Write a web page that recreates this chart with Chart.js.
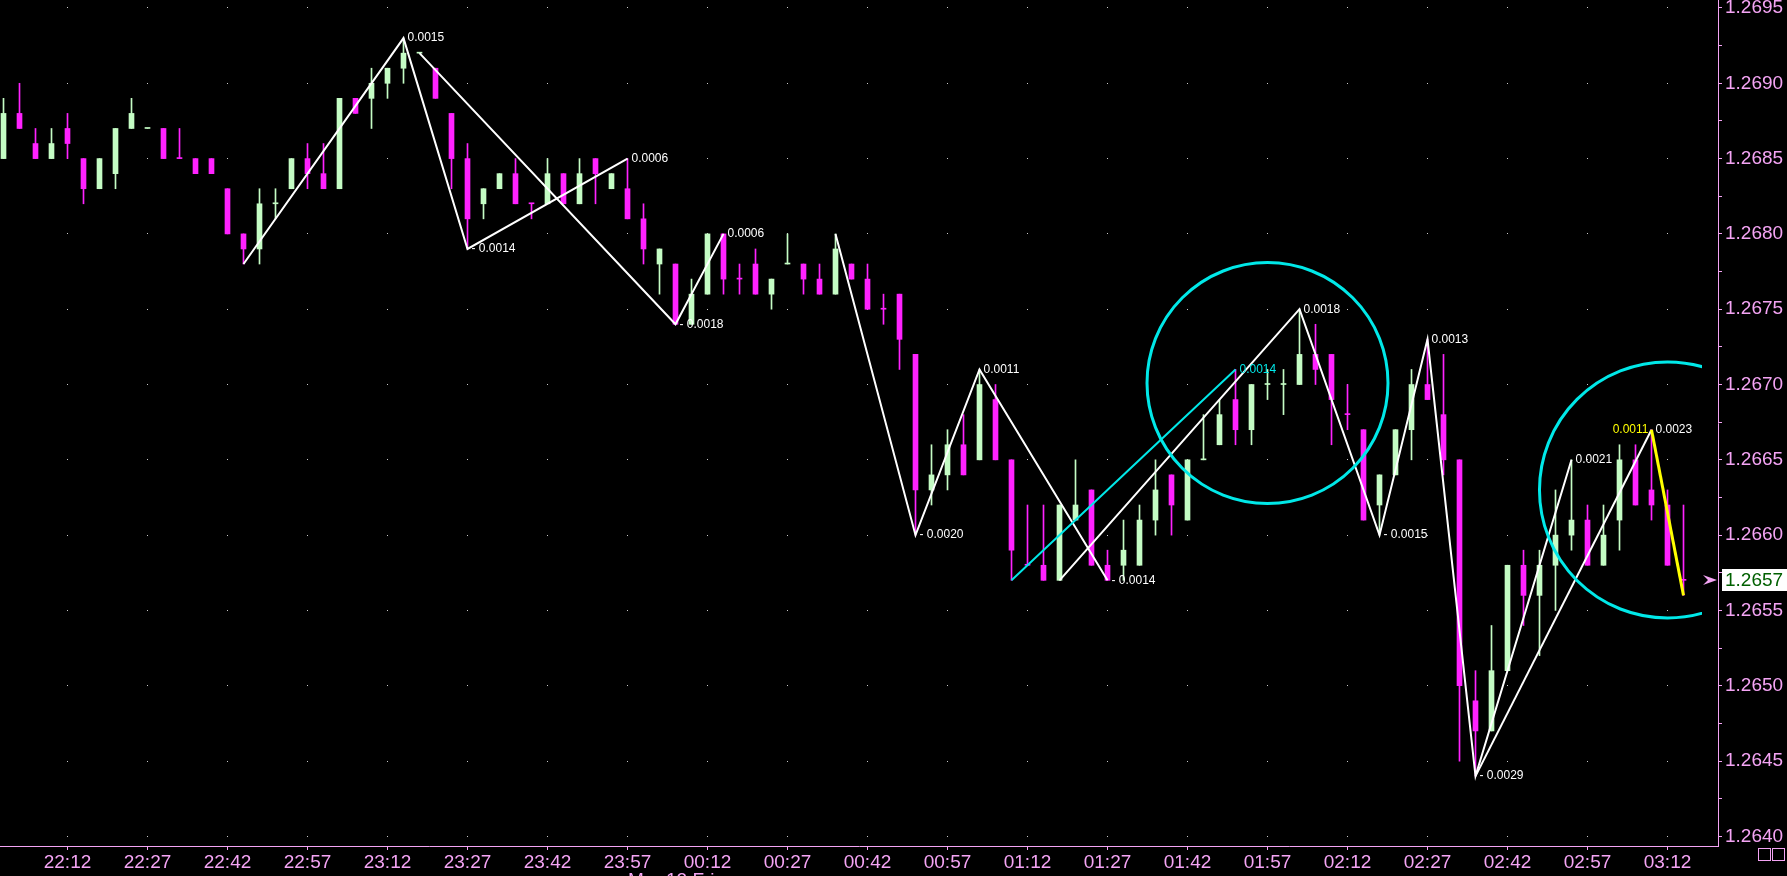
<!DOCTYPE html>
<html>
<head>
<meta charset="utf-8">
<script src="https://cdn.jsdelivr.net/npm/chart.js@4.4.1/dist/chart.umd.min.js"></script>
<style>
html, body { margin: 0; padding: 0; background: #000; }
#wrap { width: 1787px; height: 876px; }
</style>
</head>
<body>
<div id="wrap"><canvas id="chart"></canvas></div>
<script>
// 3-minute bars, 22:00 .. 03:15
const times = [];
for (let i = 0; i < 106; i++) {
    const m = (22 * 60 + 3 * i) % 1440;
    times.push(String(Math.floor(m / 60)).padStart(2, '0') + ':' + String(m % 60).padStart(2, '0'));
}

const opens = [
    1.2685, 1.2688, 1.2686, 1.2685, 1.2687, 1.2685, 1.2683, 1.2684, 1.2687, 1.2687,
    1.2687, 1.2685, 1.2685, 1.2685, 1.2683, 1.2680, 1.2679, 1.2682, 1.2683, 1.2685,
    1.2684, 1.2683, 1.2689, 1.2689, 1.2690, 1.2691, 1.2692, 1.2691, 1.2688, 1.2685,
    1.2682, 1.2683, 1.2684, 1.2682, 1.2682, 1.2684, 1.2682, 1.2685, 1.2683, 1.2683,
    1.2681, 1.2678, 1.2678, 1.2674, 1.2676, 1.2680, 1.2677, 1.2678, 1.2676, 1.2678,
    1.2678, 1.2677, 1.2676, 1.2678, 1.2677, 1.2675, 1.2676, 1.2672, 1.2663, 1.2664,
    1.2666, 1.2665, 1.2669, 1.2665, 1.2658, 1.2658, 1.2657, 1.2661, 1.2663, 1.2658,
    1.2658, 1.2658, 1.2661, 1.2664, 1.2661, 1.2665, 1.2666, 1.2669, 1.2667, 1.2670,
    1.2670, 1.2670, 1.2672, 1.2672, 1.2668, 1.2667, 1.2662, 1.2664, 1.2667, 1.2670,
    1.2668, 1.2665, 1.2649, 1.2647, 1.2651, 1.2658, 1.2656, 1.2658, 1.2660, 1.2661,
    1.2658, 1.2661, 1.2665, 1.2663, 1.2662, 1.2657
];
const highs = [
    1.2689, 1.2690, 1.2687, 1.2687, 1.2688, 1.2685, 1.2685, 1.2687, 1.2689, 1.2687,
    1.2687, 1.2687, 1.2685, 1.2685, 1.2683, 1.2680, 1.2683, 1.2683, 1.2685, 1.2686,
    1.2686, 1.2689, 1.2689, 1.2691, 1.2691, 1.2693, 1.2692, 1.2691, 1.2688, 1.2686,
    1.2683, 1.2684, 1.2685, 1.2682, 1.2685, 1.2684, 1.2685, 1.2685, 1.2684, 1.2685,
    1.2682, 1.2679, 1.2678, 1.2677, 1.2680, 1.2680, 1.2678, 1.2679, 1.2677, 1.2680,
    1.2678, 1.2678, 1.2680, 1.2678, 1.2678, 1.2676, 1.2676, 1.2672, 1.2666, 1.2667,
    1.2668, 1.2671, 1.2670, 1.2665, 1.2662, 1.2662, 1.2662, 1.2665, 1.2663, 1.2659,
    1.2661, 1.2662, 1.2665, 1.2664, 1.2665, 1.2668, 1.2669, 1.2671, 1.2670, 1.2671,
    1.2671, 1.2675, 1.2674, 1.2672, 1.2670, 1.2667, 1.2664, 1.2667, 1.2671, 1.2673,
    1.2672, 1.2665, 1.2651, 1.2654, 1.2658, 1.2659, 1.2659, 1.2663, 1.2665, 1.2662,
    1.2662, 1.2666, 1.2666, 1.2667, 1.2663, 1.2662
];
const lows = [
    1.2685, 1.2687, 1.2685, 1.2685, 1.2685, 1.2682, 1.2683, 1.2683, 1.2687, 1.2687,
    1.2685, 1.2685, 1.2684, 1.2684, 1.2680, 1.2678, 1.2678, 1.2681, 1.2683, 1.2683,
    1.2683, 1.2683, 1.2688, 1.2687, 1.2689, 1.2690, 1.2692, 1.2689, 1.2683, 1.2679,
    1.2681, 1.2683, 1.2682, 1.2681, 1.2682, 1.2682, 1.2682, 1.2682, 1.2683, 1.2681,
    1.2678, 1.2676, 1.2674, 1.2674, 1.2676, 1.2676, 1.2676, 1.2676, 1.2675, 1.2678,
    1.2676, 1.2676, 1.2676, 1.2677, 1.2675, 1.2674, 1.2671, 1.2660, 1.2662, 1.2663,
    1.2664, 1.2665, 1.2665, 1.2657, 1.2658, 1.2657, 1.2657, 1.2661, 1.2658, 1.2657,
    1.2657, 1.2658, 1.2660, 1.2660, 1.2661, 1.2665, 1.2666, 1.2666, 1.2666, 1.2669,
    1.2668, 1.2670, 1.2670, 1.2666, 1.2667, 1.2661, 1.2660, 1.2664, 1.2665, 1.2669,
    1.2664, 1.2645, 1.2644, 1.2647, 1.2651, 1.2654, 1.2652, 1.2655, 1.2659, 1.2658,
    1.2658, 1.2659, 1.2662, 1.2661, 1.2658, 1.2656
];
const closes = [
    1.2688, 1.2687, 1.2685, 1.2686, 1.2686, 1.2683, 1.2685, 1.2687, 1.2688, 1.2687,
    1.2685, 1.2685, 1.2684, 1.2684, 1.2680, 1.2679, 1.2682, 1.2682, 1.2685, 1.2684,
    1.2683, 1.2689, 1.2688, 1.2690, 1.2691, 1.2692, 1.2692, 1.2689, 1.2685, 1.2681,
    1.2683, 1.2684, 1.2682, 1.2682, 1.2684, 1.2682, 1.2684, 1.2684, 1.2684, 1.2681,
    1.2679, 1.2679, 1.2674, 1.2676, 1.2680, 1.2677, 1.2677, 1.2676, 1.2677, 1.2678,
    1.2677, 1.2676, 1.2679, 1.2677, 1.2675, 1.2675, 1.2673, 1.2663, 1.2664, 1.2666,
    1.2664, 1.2670, 1.2665, 1.2659, 1.2658, 1.2657, 1.2662, 1.2662, 1.2658, 1.2657,
    1.2659, 1.2661, 1.2663, 1.2662, 1.2665, 1.2665, 1.2668, 1.2667, 1.2670, 1.2670,
    1.2670, 1.2672, 1.2671, 1.2669, 1.2668, 1.2661, 1.2664, 1.2667, 1.2670, 1.2669,
    1.2665, 1.2650, 1.2647, 1.2651, 1.2658, 1.2656, 1.2658, 1.2660, 1.2661, 1.2658,
    1.2660, 1.2665, 1.2662, 1.2662, 1.2658, 1.2657
];
// doji bars drawn in the "up" colour
const greenDoji = ['22:27', '22:51', '23:18', '00:27', '01:45', '01:57', '02:00'];

const xTickLabels = ['22:12', '22:27', '22:42', '22:57', '23:12', '23:27', '23:42', '23:57',
    '00:12', '00:27', '00:42', '00:57', '01:12', '01:27', '01:42', '01:57', '02:12',
    '02:27', '02:42', '02:57', '03:12'];
const yTickLabels = ['1.2640', '1.2645', '1.2650', '1.2655', '1.2660', '1.2665',
    '1.2670', '1.2675', '1.2680', '1.2685', '1.2690', '1.2695'];

// swing lines [time, price]
const swingA = [['22:45', 1.2678], ['23:15', 1.2693], ['23:27', 1.2679], ['23:57', 1.2685]];
const swingB = [['23:18', 1.2692], ['00:06', 1.2674], ['00:15', 1.2680]];
const swingC = [['00:36', 1.2680], ['00:51', 1.2660], ['01:03', 1.2671], ['01:27', 1.2657]];
const swingD = [['01:18', 1.2657], ['02:03', 1.2675], ['02:18', 1.2660], ['02:27', 1.2673],
    ['02:36', 1.2644], ['02:54', 1.2665]];
const swingE = [['02:36', 1.2644], ['03:09', 1.2667]];
const swingCyan = [['01:09', 1.2657], ['01:51', 1.2671]];
const swingYellow = [['03:09', 1.2667], ['03:15', 1.2656]];

// swing labels [time, price, text, colour, side]
const swingLabels = [
    ['23:15', 1.2693, '0.0015', '#ffffff', 'r'],
    ['23:27', 1.2679, '- 0.0014', '#ffffff', 'r'],
    ['23:57', 1.2685, '0.0006', '#ffffff', 'r'],
    ['00:06', 1.2674, '- 0.0018', '#ffffff', 'r'],
    ['00:15', 1.2680, '0.0006', '#ffffff', 'r'],
    ['00:51', 1.2660, '- 0.0020', '#ffffff', 'r'],
    ['01:03', 1.2671, '0.0011', '#ffffff', 'r'],
    ['01:27', 1.2657, '- 0.0014', '#ffffff', 'r'],
    ['01:51', 1.2671, '0.0014', '#00e8e8', 'r'],
    ['02:03', 1.2675, '0.0018', '#ffffff', 'r'],
    ['02:18', 1.2660, '- 0.0015', '#ffffff', 'r'],
    ['02:27', 1.2673, '0.0013', '#ffffff', 'r'],
    ['02:36', 1.2644, '- 0.0029', '#ffffff', 'r'],
    ['02:54', 1.2665, '0.0021', '#ffffff', 'r'],
    ['03:09', 1.2667, '0.0023', '#ffffff', 'r'],
    ['03:09', 1.2667, '0.0011', '#ffff00', 'l']
];

// circles [time, price, radius in price]
const circles = [['01:57', 1.26701, 0.0008], ['03:12', 1.2663, 0.00085]];

const dateLabel = 'Mar 12 Fri';

const UP = '#c4fcc4';
const DOWN = '#ff22ff';
const AXIS = '#f4a4f4';
const FONT = 'Liberation Sans';

function candleColor(i) {
    if (closes[i] > opens[i]) return UP;
    if (closes[i] < opens[i]) return DOWN;
    return greenDoji.includes(times[i]) ? UP : DOWN;
}

function toPoints(list) {
    return list.map(p => ({x: times.indexOf(p[0]), y: p[1]}));
}

function lineSet(list, color, width) {
    return {
        type: 'line',
        data: toPoints(list),
        borderColor: color,
        borderWidth: width,
        pointRadius: 0,
        fill: false,
        tension: 0
    };
}

const overlay = {
    id: 'overlay',
    beforeDatasetsDraw(chart) {
        const {ctx, scales: {x, y}} = chart;
        ctx.save();
        ctx.fillStyle = '#c8c8c8';
        x.ticks.forEach(t => {
            const px = Math.floor(x.getPixelForValue(t.value));
            yTickLabels.forEach(l => {
                const py = Math.floor(y.getPixelForValue(parseFloat(l)));
                ctx.fillRect(px, py, 1, 1);
            });
        });
        ctx.restore();
    },
    afterDatasetsDraw(chart) {
        const {ctx, chartArea, scales: {x, y}} = chart;
        ctx.save();
        ctx.beginPath();
        ctx.rect(chartArea.left, chartArea.top, chartArea.right - chartArea.left - 16, chartArea.bottom - chartArea.top);
        ctx.clip();
        ctx.strokeStyle = '#00e8e8';
        ctx.lineWidth = 3;
        circles.forEach(c => {
            const cx = x.getPixelForValue(times.indexOf(c[0]));
            const cy = y.getPixelForValue(c[1]);
            const r = Math.abs(y.getPixelForValue(c[1] + c[2]) - cy);
            ctx.beginPath();
            ctx.arc(cx, cy, r, 0, Math.PI * 2);
            ctx.stroke();
        });
        ctx.restore();

        ctx.save();
        ctx.font = '12px "' + FONT + '"';
        ctx.textBaseline = 'middle';
        swingLabels.forEach(s => {
            const px = x.getPixelForValue(times.indexOf(s[0]));
            const py = y.getPixelForValue(s[1]);
            ctx.fillStyle = s[3];
            if (s[4] === 'l') {
                ctx.textAlign = 'right';
                ctx.fillText(s[2], px - 3, py);
            } else {
                ctx.textAlign = 'left';
                ctx.fillText(s[2], px + 4, py);
            }
        });
        ctx.restore();
    },
    afterDraw(chart) {
        const {ctx, chartArea, scales: {y}} = chart;
        const last = closes[closes.length - 1];
        const py = Math.round(y.getPixelForValue(last));
        const ax = chartArea.right;
        ctx.save();
        // current price box
        ctx.fillStyle = '#ffffff';
        ctx.fillRect(ax + 4, py - 11, chart.width - ax - 4, 22);
        ctx.fillStyle = '#006000';
        ctx.font = '19px "' + FONT + '"';
        ctx.textBaseline = 'middle';
        ctx.textAlign = 'left';
        ctx.fillText(last.toFixed(4), ax + 7, py + 1);
        // marker arrow
        ctx.fillStyle = AXIS;
        ctx.beginPath();
        ctx.moveTo(ax - 15, py - 5);
        ctx.lineTo(ax - 1, py);
        ctx.lineTo(ax - 15, py + 5);
        ctx.lineTo(ax - 10, py);
        ctx.closePath();
        ctx.fill();
        // date, cut by the bottom edge
        ctx.textBaseline = 'alphabetic';
        ctx.fillText(dateLabel, 628, 886);
        // two small boxes bottom right
        ctx.strokeStyle = AXIS;
        ctx.lineWidth = 1;
        ctx.strokeRect(chart.width - 28.5, chartArea.bottom + 2.5, 12, 12);
        ctx.strokeRect(chart.width - 14.5, chartArea.bottom + 2.5, 12, 12);
        ctx.restore();
    }
};

const ctx = document.getElementById('chart').getContext('2d');
new Chart(ctx, {
    type: 'bar',
    data: {
        datasets: [
            lineSet(swingYellow, '#ffff00', 3),
            lineSet(swingCyan, '#00e8e8', 2),
            lineSet(swingA, '#ffffff', 2),
            lineSet(swingB, '#ffffff', 2),
            lineSet(swingC, '#ffffff', 2),
            lineSet(swingD, '#ffffff', 2),
            lineSet(swingE, '#ffffff', 2),
            {
                data: times.map((t, i) => ({x: i, y: [opens[i], closes[i]]})),
                backgroundColor: times.map((t, i) => candleColor(i)),
                borderWidth: 0,
                barThickness: 5,
                minBarLength: 1,
                grouped: false
            },
            {
                data: times.map((t, i) => ({x: i, y: [lows[i], highs[i]]})),
                backgroundColor: times.map((t, i) => candleColor(i)),
                borderWidth: 0,
                barThickness: 1,
                grouped: false
            }
        ]
    },
    options: {
        responsive: true,
        maintainAspectRatio: false,
        animation: false,
        layout: {padding: 0},
        plugins: {legend: {display: false}, tooltip: {enabled: false}},
        scales: {
            x: {
                type: 'linear',
                min: -0.21875,
                max: 107.15625,
                offset: false,
                grid: {drawOnChartArea: false, drawTicks: true, tickLength: 4, color: AXIS, offset: false},
                border: {color: AXIS},
                ticks: {
                    color: AXIS,
                    font: {family: FONT, size: 19, lineHeight: 1},
                    autoSkip: false,
                    maxRotation: 0,
                    padding: 3,
                    includeBounds: false,
                    callback: v => times[v]
                },
                afterBuildTicks: axis => {
                    axis.ticks = xTickLabels.map(l => ({value: times.indexOf(l)}));
                },
                afterFit: axis => {
                    axis.height = 30;
                    axis.paddingLeft = 0;
                    axis.paddingRight = 0;
                }
            },
            y: {
                position: 'right',
                min: 1.263936,
                max: 1.269553,
                grid: {drawOnChartArea: false, drawTicks: true, tickLength: 4, color: AXIS},
                border: {color: AXIS},
                ticks: {
                    color: AXIS,
                    font: {family: FONT, size: 19, lineHeight: 1},
                    autoSkip: false,
                    padding: 3,
                    includeBounds: false,
                    callback: v => {
                        const s = v.toFixed(4);
                        return yTickLabels.includes(s) ? s : '';
                    }
                },
                afterBuildTicks: axis => {
                    const list = [];
                    yTickLabels.forEach((l, i) => {
                        const v = parseFloat(l);
                        list.push({value: v});
                        if (i < yTickLabels.length - 1) list.push({value: v + 0.00025});
                    });
                    axis.ticks = list;
                },
                afterFit: axis => {
                    axis.width = 69;
                    axis.paddingTop = 0;
                    axis.paddingBottom = 0;
                }
            }
        }
    },
    plugins: [overlay]
});
</script>
</body>
</html>
